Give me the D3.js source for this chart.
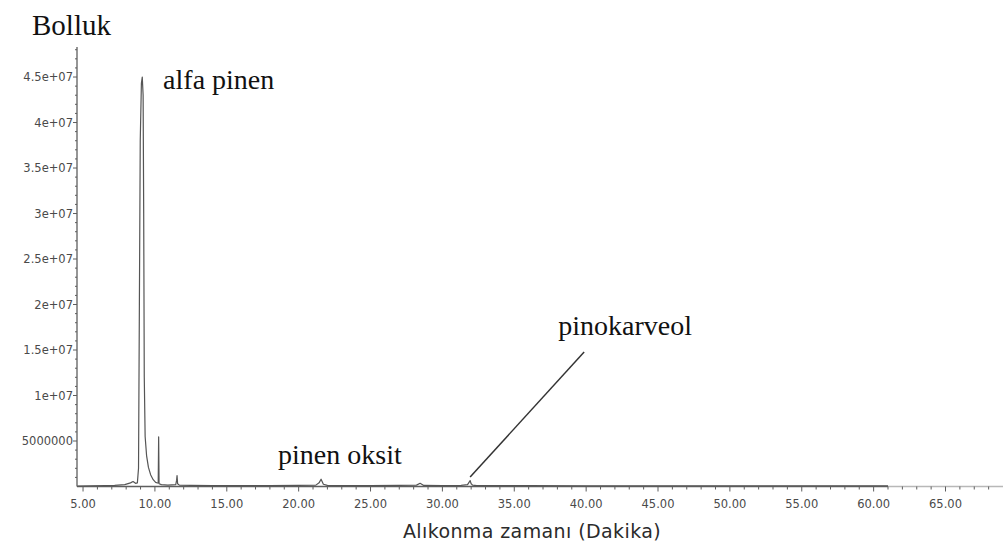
<!DOCTYPE html>
<html>
<head>
<meta charset="utf-8">
<script src="https://cdn.jsdelivr.net/npm/d3@7"></script>
<style>
  html, body { margin: 0; padding: 0; background: #fff; }
  svg { display: block; }
</style>
</head>
<body>
<svg id="chart" width="1006" height="547"></svg>
<script>
// Total ion chromatogram: retention time (min) vs abundance
const retentionTime = [
  4.60, 5.50, 6.50, 7.20, 7.90, 8.30, 8.48, 8.65, 8.78, 8.86,
  8.92, 8.98, 9.06, 9.12, 9.18, 9.22, 9.26, 9.32, 9.42, 9.55,
  9.70, 9.88, 10.05, 10.18, 10.23, 10.26, 10.29, 10.45, 10.90, 11.45,
  11.51, 11.54, 11.58, 11.70, 12.50, 14.00, 16.00, 18.00, 20.00, 21.20,
  21.42, 21.56, 21.72, 22.00, 23.00, 25.00, 27.00, 28.20, 28.45, 28.70,
  30.00, 31.30, 31.75, 31.85, 31.93, 32.00, 32.10, 32.40, 34.00, 36.00,
  40.00, 45.00, 50.00, 55.00, 61.00
];
const abundance = [
  0.05e6, 0.08e6, 0.10e6, 0.12e6, 0.20e6, 0.40e6, 0.55e6, 0.35e6, 0.40e6, 2.0e6,
  20.0e6, 38.0e6, 44.3e6, 45.0e6, 43.0e6, 30.0e6, 12.0e6, 5.5e6, 3.4e6, 2.1e6,
  1.3e6, 0.75e6, 0.45e6, 0.38e6, 0.40e6, 5.45e6, 0.30e6, 0.20e6, 0.15e6, 0.20e6,
  0.70e6, 1.20e6, 0.30e6, 0.15e6, 0.12e6, 0.10e6, 0.10e6, 0.10e6, 0.12e6, 0.15e6,
  0.40e6, 0.80e6, 0.25e6, 0.12e6, 0.10e6, 0.10e6, 0.12e6, 0.15e6, 0.35e6, 0.12e6,
  0.10e6, 0.12e6, 0.20e6, 0.45e6, 0.65e6, 0.30e6, 0.15e6, 0.10e6, 0.10e6, 0.10e6,
  0.08e6, 0.08e6, 0.08e6, 0.08e6, 0.08e6
];

// Axis ticks
const xTickValues = [5, 10, 15, 20, 25, 30, 35, 40, 45, 50, 55, 60, 65];
const yTickValues = [5e6, 10e6, 15e6, 20e6, 25e6, 30e6, 35e6, 40e6, 45e6];
const yTickLabels = ["5000000", "1e+07", "1.5e+07", "2e+07", "2.5e+07", "3e+07", "3.5e+07", "4e+07", "4.5e+07"];

// Compound labels, anchored in data coordinates
const compoundNames = ["alfa pinen", "pinen oksit", "pinokarveol"];
const labelTime = [10.57, 18.57, 38.06];
const labelAbundance = [43.7e6, 2.47e6, 16.65e6];
// Leader line for pinokarveol: from the peak to below the label
const leaderTime = [31.93, 39.86];
const leaderAbundance = [1.04e6, 14.78e6];

const svg = d3.select("#chart");

const x = d3.scaleLinear().domain([4.58, 69.0]).range([77, 1003]);
const y = d3.scaleLinear().domain([0, 48.3e6]).range([486.5, 47]);

const axisColor = "#5e5e5e";
const labelFont = "'DejaVu Sans', sans-serif";
const serif = "'Liberation Serif', 'Times New Roman', serif";

// X axis line: solid up to the end of the run, then lighter
svg.append("line")
  .attr("x1", x(4.58)).attr("x2", x(61)).attr("y1", y(0)).attr("y2", y(0))
  .attr("stroke", axisColor).attr("stroke-width", 1.3);
svg.append("line")
  .attr("x1", x(61)).attr("x2", x(69)).attr("y1", y(0)).attr("y2", y(0))
  .attr("stroke", "#b8b8b8").attr("stroke-width", 1.3);

// X minor ticks every minute, major every five
const xMinor = d3.range(5, 69, 1);
svg.append("g").selectAll("line").data(xMinor).join("line")
  .attr("x1", d => x(d)).attr("x2", d => x(d))
  .attr("y1", y(0)).attr("y2", d => y(0) + (d % 5 === 0 ? 5 : 3))
  .attr("stroke", axisColor).attr("stroke-width", 1);

svg.append("g").selectAll("text").data(xTickValues).join("text")
  .attr("x", d => x(d)).attr("y", y(0) + 21.5)
  .attr("text-anchor", "middle")
  .attr("font-family", labelFont).attr("font-size", 11.5)
  .attr("fill", "#4a4a4a")
  .text(d => d3.format(".2f")(d));

// Y axis line
svg.append("line")
  .attr("x1", x(4.58)).attr("x2", x(4.58)).attr("y1", y(0)).attr("y2", y(48.3e6))
  .attr("stroke", axisColor).attr("stroke-width", 1.3);

const yMinor = d3.range(1e6, 48.3e6, 1e6);
svg.append("g").selectAll("line").data(yMinor).join("line")
  .attr("x1", x(4.58)).attr("x2", d => x(4.58) - (Math.round(d / 1e6) % 5 === 0 ? 4 : 2))
  .attr("y1", d => y(d)).attr("y2", d => y(d))
  .attr("stroke", axisColor).attr("stroke-width", 1);

svg.append("g").selectAll("text").data(yTickValues).join("text")
  .attr("x", x(4.58) - 4).attr("y", d => y(d) + 4)
  .attr("text-anchor", "end")
  .attr("font-family", labelFont).attr("font-size", 11.5)
  .attr("fill", "#4a4a4a")
  .text((d, i) => yTickLabels[i]);

// Chromatogram trace
const points = retentionTime.map((t, i) => [t, abundance[i]]);
svg.append("path")
  .datum(points)
  .attr("fill", "none")
  .attr("stroke", "#555")
  .attr("stroke-width", 1.2)
  .attr("stroke-linejoin", "round")
  .attr("d", d3.line().x(d => x(d[0])).y(d => y(d[1])));

// Leader line
svg.append("line")
  .attr("x1", x(leaderTime[0])).attr("y1", y(leaderAbundance[0]))
  .attr("x2", x(leaderTime[1])).attr("y2", y(leaderAbundance[1]))
  .attr("stroke", "#333").attr("stroke-width", 1.5);

// Compound names
svg.append("g").selectAll("text").data(compoundNames).join("text")
  .attr("x", (d, i) => x(labelTime[i])).attr("y", (d, i) => y(labelAbundance[i]))
  .attr("font-family", serif).attr("font-size", 28)
  .attr("fill", "#111")
  .text(d => d);

// Axis titles
svg.append("text")
  .attr("x", 32).attr("y", 35)
  .attr("font-family", serif).attr("font-size", 29)
  .attr("fill", "#111")
  .text("Bolluk");

svg.append("text")
  .attr("x", 532).attr("y", 538)
  .attr("text-anchor", "middle")
  .attr("font-family", labelFont).attr("font-size", 19)
  .attr("letter-spacing", 0.4)
  .attr("fill", "#2b2b2b")
  .text("Alıkonma zamanı (Dakika)");
</script>
</body>
</html>
